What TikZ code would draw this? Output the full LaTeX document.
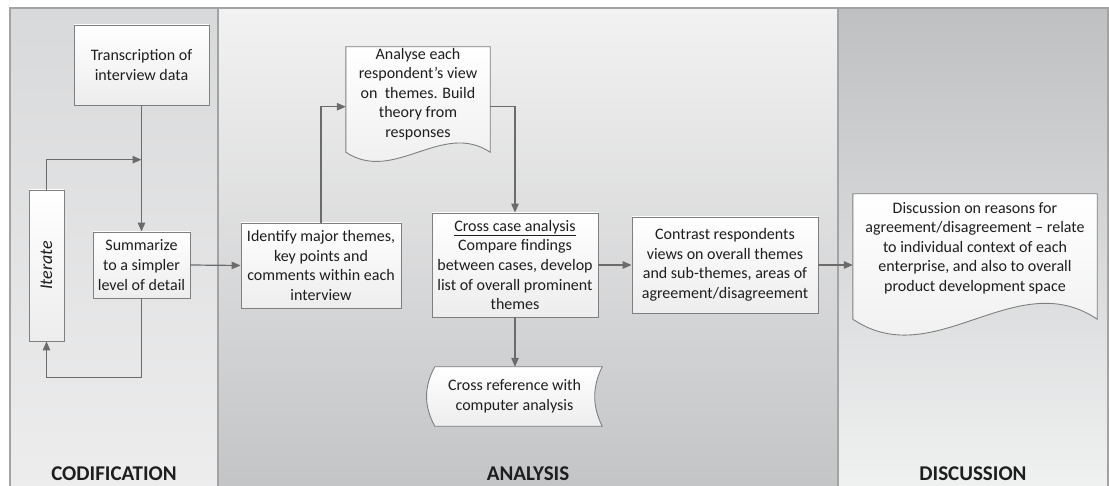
\documentclass[tikz,border=0pt]{standalone}
\usepackage{fontspec}
\setmainfont{Carlito}
\usetikzlibrary{calc}
\usetikzlibrary{arrows.meta}

\pgfdeclarelayer{back}
\pgfsetlayers{back,main}

\definecolor{lineGray}{HTML}{6B6B6B}
\definecolor{boxGray}{HTML}{7F7F7F}
\definecolor{boxShade}{HTML}{EDEDED}
\definecolor{panelEdge}{HTML}{A3A3A3}
\definecolor{codTop}{HTML}{D8D9DA}
\definecolor{codBottom}{HTML}{EDEDEE}
\definecolor{anaTop}{HTML}{F2F2F2}
\definecolor{anaBottom}{HTML}{C3C4C6}
\definecolor{disTop}{HTML}{BFC0C2}
\definecolor{disBottom}{HTML}{F0F1F1}
\definecolor{inkBlack}{HTML}{1E1E1E}

\begin{document}
\begin{tikzpicture}[x=1pt,y=-1pt,
  box/.style={draw=boxGray, line width=0.9pt, top color=white, bottom color=boxShade,
    align=center, inner sep=2pt, text=inkBlack, font=\fontsize{16}{19.6}\selectfont},
  docnode/.style={align=center, inner sep=0pt, text=inkBlack, font=\fontsize{16}{19.6}\selectfont},
  docline/.style={draw=boxGray, line width=0.9pt, top color=white, bottom color=boxShade},
  link/.style={draw=lineGray, line width=1.2pt, -{Triangle[length=9pt,width=7.5pt]}},
  panel/.style={draw=panelEdge, line width=1.2pt},
  title/.style={anchor=base, text=inkBlack, font=\fontsize{21}{25}\selectfont\bfseries}]

  \useasboundingbox (0,0) rectangle (1109,486);

  % three columns
  \begin{pgfonlayer}{back}
    \draw[panel, top color=codTop, bottom color=codBottom] (10,8) rectangle (218,492);
    \draw[panel, top color=anaTop, bottom color=anaBottom] (218,8) rectangle (838,492);
    \draw[panel, top color=disTop, bottom color=disBottom] (838,8) rectangle (1108,492);
  \end{pgfonlayer}

  \node[title] (codTitle) at (114,480) {CODIFICATION};
  \node[title] (anaTitle) at (528,480) {ANALYSIS};
  \node[title] (disTitle) at (973,480) {DISCUSSION};

  % codification
  \node[box, minimum width=135, minimum height=80] (trans) at (141.5,65) {Transcription of\\interview data};
  \node[box, minimum width=97, minimum height=66] (summ) at (141.5,265) {Summarize\\to a simpler\\level of detail};
  \node[box, minimum width=35, minimum height=151] (iter) at (46.5,265.5) {\rotatebox{90}{\fontsize{18}{20}\selectfont\itshape Iterate}};

  % analysis
  \node[box, minimum width=160, minimum height=85] (ident) at (321,265.5) {Identify major themes,\\key points and\\comments within each\\interview};
  \node[docnode, minimum width=144, minimum height=94] (analyse) at (418,94) {Analyse each\\respondent's view\\on~ themes. Build\\theory from\\responses};
  \node[box, minimum width=166, minimum height=104] (cross) at (515,265) {\underline{Cross case analysis}\\Compare findings\\between cases, develop\\list of overall prominent\\themes};
  \node[docnode, minimum width=175, minimum height=59] (crossref) at (514.5,396.5) {Cross reference with\\computer analysis};
  \node[box, minimum width=186, minimum height=96] (contrast) at (725,265) {Contrast respondents\\views on overall themes\\and sub-themes, areas of\\agreement/disagreement};

  % discussion
  \node[docnode, minimum width=244, minimum height=108] (disc) at (975,248) {Discussion on reasons for\\agreement/disagreement -- relate\\to individual context of each\\enterprise, and also to overall\\product development space};

  % document outlines behind the text
  \newcommand\docOutline[3]{
    \draw[docline] (#1.north west) -- (#1.north east) -- ($(#1.south east)+(0,#2)$)
      .. controls ($(#1.south east)!1/3!(#1.south west)+(0,#2-#3)$)
      and ($(#1.south west)!1/3!(#1.south east)+(0,#2+#3)$) .. ($(#1.south west)+(0,#2)$) -- cycle;
  }
  \begin{pgfonlayer}{back}
    \docOutline{analyse}{11}{32}
    \docOutline{disc}{17}{55}
    \draw[docline] ($(crossref.north west)+(8,0)$) -- (crossref.north east)
      .. controls ($(crossref.north east)+(-10,20)$) and ($(crossref.south east)+(-10,-20)$) .. (crossref.south east)
      -- ($(crossref.south west)+(8,0)$)
      .. controls ($(crossref.south west)+(-3,-20)$) and ($(crossref.north west)+(-3,20)$) .. ($(crossref.north west)+(8,0)$);
  \end{pgfonlayer}

  % connectors
  \coordinate (loopTop) at ($(trans.south)!0.43!(summ.north)$);
  \draw[link] (trans.south) -- (summ.north);
  \draw[link] (iter.north) |- (loopTop);
  \draw[link] (summ.south) -- ++(0,79) -| (iter.south);
  \draw[link] (summ.east) -- (ident.west);
  \draw[link] (ident.north) |- (analyse.190);
  \draw[link] (analyse.350) -| (cross.north);
  \draw[link] (cross.south) -- (cross.south |- crossref.north);
  \draw[link] (cross.east) -- (contrast.west);
  \draw[link] (contrast.east) -- (contrast.east -| disc.188);
\end{tikzpicture}
\end{document}
